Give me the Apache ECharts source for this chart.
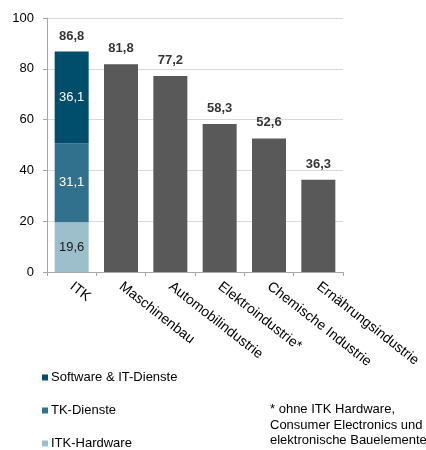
<!DOCTYPE html>
<html><head><meta charset="utf-8">
<script src="https://cdn.jsdelivr.net/npm/echarts@6/dist/echarts.min.js"></script>
<style>html,body{margin:0;padding:0;background:#fff}#c{width:426px;height:450px}</style>
</head><body><div id="c"></div>
<script>
var categories = ['ITK','Maschinenbau','Automobilindustrie','Elektroindustrie*','Chemische Industrie','Ernährungsindustrie'];
var itkHardware = [19.6, null, null, null, null, null];
var tkDienste = [31.1, null, null, null, null, null];
var softwareIT = [36.1, null, null, null, null, null];
var otherIndustries = [null, 81.8, 77.2, 58.3, 52.6, 36.3];
var yTicks = [0, 20, 40, 60, 80, 100];
var footnote = ['* ohne ITK Hardware,', 'Consumer Electronics und', 'elektronische Bauelemente'];

var totals = categories.map(function(c, i){
  return (itkHardware[i]||0)+(tkDienste[i]||0)+(softwareIT[i]||0)+(otherIndustries[i]||0);
});
function fmt(v){ return v.toFixed(1).replace('.', ','); }
var font = 'Liberation Sans, Arial, sans-serif';
var chart = echarts.init(document.getElementById('c'));
function seg(name, data, color, labelColor){
  return {
    name: name, type: 'bar', stack: 'a', data: data, barWidth: 34,
    itemStyle: {color: color},
    label: {show: true, position: 'inside', color: labelColor, fontSize: 13, fontFamily: font,
      formatter: function(p){ return p.value==null ? '' : fmt(p.value); }},
    emphasis: {disabled: true}, animation: false
  };
}
chart.setOption({
  animation: false,
  textStyle: {fontFamily: font},
  grid: {left: 47, right: 83, top: 18, bottom: 178},
  legend: {
    data: ['Software & IT-Dienste','TK-Dienste','ITK-Hardware'],
    orient: 'vertical', left: 42, top: 371, height: 82, padding: 0, itemGap: 20,
    icon: 'rect', itemWidth: 6, itemHeight: 6,
    textStyle: {fontSize: 13, color: '#000', fontFamily: font, padding: [0,0,0,-2]}, selectedMode: false
  },
  xAxis: {
    type: 'category', data: categories,
    axisLine: {lineStyle: {color: '#a6a6a6'}},
    axisTick: {show: true, alignWithLabel: false, length: 4, lineStyle: {color: '#a6a6a6'}},
    axisLabel: {rotate: -38, color: '#000', fontSize: 14, fontFamily: font, margin: 13, interval: 0}
  },
  yAxis: {
    type: 'value', min: yTicks[0], max: yTicks[yTicks.length-1], interval: 20,
    axisLine: {show: true, lineStyle: {color: '#a6a6a6'}},
    axisTick: {show: true, length: 4, lineStyle: {color: '#a6a6a6'}},
    splitLine: {lineStyle: {color: '#d9d9d9'}},
    axisLabel: {color: '#000', fontSize: 13, fontFamily: font, margin: 13}
  },
  graphic: footnote.map(function(t, i){
    return {type: 'text', left: 270, top: 403 + i*15.5,
      style: {text: t, fill: '#000', font: '13px ' + font}};
  }),
  series: [
    seg('ITK-Hardware', itkHardware, '#9dbfcb', '#1a1a1a'),
    seg('TK-Dienste', tkDienste, '#31718d', '#ffffff'),
    seg('Software & IT-Dienste', softwareIT, '#004d6c', '#ffffff'),
    {name: 'other', type: 'bar', stack: 'a', data: otherIndustries, barWidth: 34,
      itemStyle: {color: '#595959'}, emphasis: {disabled: true}},
    {name: 'total', type: 'scatter', data: totals, symbolSize: 0, silent: true,
      label: {show: true, position: 'top', distance: 9, color: '#000', fontWeight: 'bold', fontSize: 13, fontFamily: font,
        formatter: function(p){ return fmt(p.value); }}}
  ]
});
</script></body></html>
